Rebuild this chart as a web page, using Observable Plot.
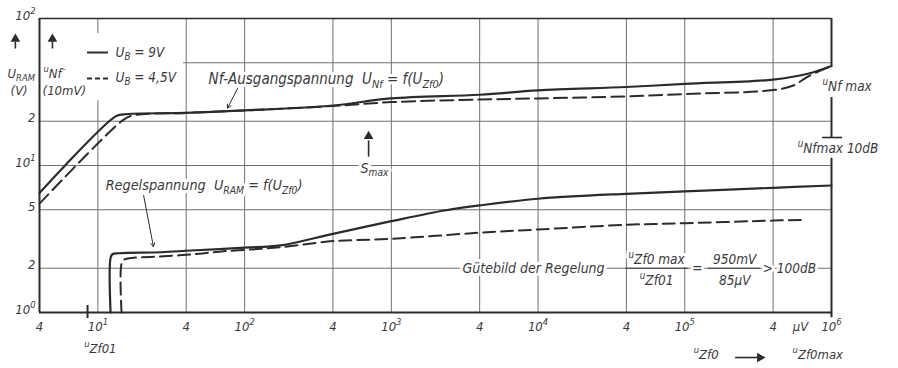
<!DOCTYPE html>
<html><head><meta charset="utf-8">
<script src="https://cdn.jsdelivr.net/npm/d3@7"></script>
<script src="https://cdn.jsdelivr.net/npm/@observablehq/plot@0.6"></script>
<style>
html,body{margin:0;padding:0;background:#fff;}
svg{display:block;}
svg text{font-stretch:condensed;}
</style>
</head><body><div id="chart"></div>
<script>
// ---- axis ticks and grid ----
const xTicks = [4, 10, 40, 100, 400, 1e3, 4e3, 1e4, 4e4, 1e5, 4e5, 1e6];
const xTickLabels = ["4", "10^{1}", "4", "10^{2}", "4", "10^{3}", "4", "10^{4}", "4", "10^{5}", "4", "10^{6}"];
const yTicks = [1, 2, 5, 10, 20, 100];
const yTickLabels = ["10^{0}", "2", "5", "10^{1}", "2", "10^{2}"];
const xGrid = [10, 40, 100, 400, 1e3, 4e3, 1e4, 4e4, 1e5, 4e5];
const yGrid = [2, 5, 10, 20, 50];

// ---- Nf output voltage u_Nf (10 mV) vs u_Zf0 (µV) ----
const nfX_9V = [4, 13.2, 15, 40, 100, 400, 1000, 4000, 1e4, 4e4, 1e5, 4e5, 6.9e5, 1e6];
const nfY_9V = [6.5, 21.6, 22.3, 22.8, 23.7, 25.6, 28.6, 30.3, 32.4, 34.2, 35.9, 38.4, 42.1, 47.5];
const nfX_45V = [4, 14.5, 17, 40, 100, 400, 1000, 4000, 1e4, 4e4, 1e5, 4e5, 5.5e5, 6.9e5, 1e6];
const nfY_45V = [5.5, 20.0, 21.8, 22.8, 23.7, 25.4, 27.0, 28.1, 28.6, 29.5, 30.6, 32.6, 35.0, 40.3, 47.5];

// ---- control voltage U_RAM (V) vs u_Zf0 (µV) ----
const rgX_9V = [12.2, 12.2, 12.6, 14, 27, 43, 100, 176, 400, 1000, 2300, 4000, 1e4, 4e4, 1e5, 4e5, 1e6];
const rgY_9V = [1, 2.35, 2.5, 2.53, 2.57, 2.64, 2.76, 2.86, 3.43, 4.18, 4.94, 5.35, 5.94, 6.42, 6.66, 7.05, 7.31];
const rgX_45V = [14.5, 14.5, 15.2, 17, 25.5, 43, 72, 128, 176, 400, 1000, 4000, 1e4, 4e4, 1e5, 4e5, 6.5e5];
const rgY_45V = [1, 2.15, 2.3, 2.35, 2.40, 2.48, 2.61, 2.71, 2.78, 3.06, 3.17, 3.49, 3.67, 3.95, 4.05, 4.22, 4.27];

const FONT = "'DejaVu Sans Condensed','DejaVu Sans',sans-serif";
const INK = "#2b2b2b";
const TXT = "#3a3a3a";
const GRID = "#707070";

const tbl = (xs, ys) => xs.map((x, i) => ({x, y: ys[i]}));
const nf9 = tbl(nfX_9V, nfY_9V), nf45 = tbl(nfX_45V, nfY_45V);
const rg9 = tbl(rgX_9V, rgY_9V), rg45 = tbl(rgX_45V, rgY_45V);

const tOpts = (o) => Object.assign({fontFamily: FONT, fontStyle: "italic", fill: TXT, fontSize: 14}, o);
// text with a white knock-out underneath (separate mark so sub/superscripts are not clipped)
const haloText = (data, o) => [
  Plot.text(data, tOpts({...o, fill: "white", stroke: "white", strokeWidth: 6, strokeLinejoin: "round"})),
  Plot.text(data, tOpts(o))
];

const plot = Plot.plot({
  width: 898, height: 368,
  marginLeft: 39, marginRight: 67, marginTop: 18, marginBottom: 56,
  x: {type: "log", domain: [4, 1e6], axis: null},
  y: {type: "log", domain: [1, 100], axis: null},
  style: {background: "white", fontFamily: FONT},
  marks: [
    // grid
    Plot.ruleX(xGrid, {stroke: GRID, strokeWidth: 1}),
    Plot.ruleY(yGrid, {stroke: GRID, strokeWidth: 1}),
    // legend box (masks grid)
    Plot.rect([0], {x1: 4, x2: 38.3, y1: 27.7, y2: 79, fill: "white"}),
    // curves
    Plot.line(nf9, {x: "x", y: "y", stroke: INK, strokeWidth: 2.2, curve: "catmull-rom"}),
    Plot.line(nf45, {x: "x", y: "y", stroke: INK, strokeWidth: 2, strokeDasharray: "13,6", curve: "catmull-rom"}),
    Plot.line(rg9, {x: "x", y: "y", stroke: INK, strokeWidth: 2.2, curve: "catmull-rom"}),
    Plot.line(rg45, {x: "x", y: "y", stroke: INK, strokeWidth: 2, strokeDasharray: "12,6", curve: "catmull-rom"}),
    // frame
    Plot.ruleX([4], {stroke: INK, strokeWidth: 2}),
    Plot.ruleY([100], {stroke: INK, strokeWidth: 1.6}),
    Plot.ruleY([1], {stroke: INK, strokeWidth: 2}),
    Plot.ruleX([1e6], {y1: 47.1, y2: 100, stroke: INK, strokeWidth: 2}),
    Plot.ruleX([1e6], {y1: 15.5, y2: 29, stroke: INK, strokeWidth: 2}),
    Plot.ruleY([15.5], {x1: 8.7e5, x2: 1.19e6, stroke: INK, strokeWidth: 1.6}),
    Plot.ruleX([1e6], {y1: 1, y2: 11.2, stroke: INK, strokeWidth: 2}),
    Plot.ruleX([1e6], {y1: 0.92, y2: 1, stroke: INK, strokeWidth: 2}),
    Plot.ruleX([8.5], {y1: 0.91, y2: 1.116, stroke: INK, strokeWidth: 2}),
    // tick labels
    Plot.text(xTicks, tOpts({x: d => d, text: (d, i) => xTickLabels[i], frameAnchor: "bottom", dy: 18, fontSize: 13})),
    Plot.text(["µV"], tOpts({x: [6.15e5], text: d => d, frameAnchor: "bottom", dy: 18, fontSize: 13})),
    Plot.text(yTicks, tOpts({y: d => d, text: (d, i) => yTickLabels[i], frameAnchor: "left", textAnchor: "end", dx: -4, dy: -3, fontSize: 13})),
    // axis titles
    Plot.text(["U_{RAM}", "(V)"], tOpts({x: [2.42, 2.54], y: [42.3, 32.0], text: d => d, textAnchor: "start", fontSize: 13})),
    Plot.text(["^{u}Nf^{–}", "(10mV)"], tOpts({x: [4.26, 4.2], y: [42.3, 32.0], text: d => d, textAnchor: "start", fontSize: 13})),
    Plot.link([0, 1], {x1: [2.74, 4.9], x2: [2.74, 4.9], y1: [62.5, 62.5], y2: [70, 70], stroke: INK, strokeWidth: 1.6}),
    Plot.dot([0, 1], {x: [2.74, 4.9], y: [72.5, 72.5], symbol: "triangle", r: 3.6, fill: INK, stroke: "none"}),
    Plot.text(["^{u}Zf01"], tOpts({x: [10.4], text: d => d, frameAnchor: "bottom", dy: 40, fontSize: 13})),
    Plot.text(["^{u}Zf0"], tOpts({x: [1.15e5], text: d => d, frameAnchor: "bottom", dy: 46, textAnchor: "start", fontSize: 13})),
    Plot.ruleY([0.494], {x1: 2.22e5, x2: 3.2e5, stroke: INK, strokeWidth: 1.6}),
    Plot.dot([0], {x: [3.25e5], y: [0.494], symbol: "triangle", rotate: 90, r: 3.6, fill: INK, stroke: "none"}),
    Plot.text(["^{u}Zf0max"], tOpts({x: [5.43e5], text: d => d, frameAnchor: "bottom", dy: 46, textAnchor: "start", fontSize: 13})),
    // legend
    Plot.ruleY([58.7], {x1: 8.5, x2: 11.8, stroke: INK, strokeWidth: 2}),
    Plot.ruleY([39.1], {x1: 8.5, x2: 11.8, stroke: INK, strokeWidth: 2, strokeDasharray: "5,3"}),
    Plot.text(["U_{B} = 9V", "U_{B} = 4,5V"], tOpts({x: [13.2, 13.2], y: [58.7, 39.7], text: d => d, textAnchor: "start", fontSize: 13.5})),
    // annotations
    ...haloText(["Nf-Ausgangspannung  U_{Nf} = f(U_{Zf0})"], {x: [56.8], y: [38.5], text: d => d, textAnchor: "start", fontSize: 15}),
    Plot.arrow([0], {x1: [89.5], y1: [33.4], x2: [76.5], y2: [24.6], stroke: INK, strokeWidth: 1, headLength: 6}),
    ...haloText(["Regelspannung  U_{RAM} = f(U_{Zf0})"], {x: [11.3], y: [7.31], text: d => d, textAnchor: "start", fontSize: 14.3}),
    Plot.arrow([0], {x1: [20.5], y1: [6.25], x2: [23.9], y2: [2.81], stroke: INK, strokeWidth: 1, headLength: 6}),
    ...haloText(["S_{max}"], {x: [617], y: [9.54], text: d => d, textAnchor: "start"}),
    Plot.link([0], {x1: [700], x2: [700], y1: [11.5], y2: [14.8], stroke: INK, strokeWidth: 1.6}),
    Plot.dot([0], {x: [700], y: [15.8], symbol: "triangle", r: 3.6, fill: INK, stroke: "none"}),
    ...haloText(["Gütebild der Regelung"], {x: [3057], y: [2], text: d => d, textAnchor: "start"}),
    ...haloText(["^{u}Zf0 max", "^{u}Zf01", "=", "950mV", "85µV"], {x: [64270, 64270, 122000, 219000, 219000], y: [2.29, 1.65, 2, 2.29, 1.65], text: d => d, textAnchor: "middle", fontSize: 13.5}),
    Plot.ruleY([2, 2], {x1: [39500, 145000], x2: [106000, 329000], stroke: TXT, strokeWidth: 1}),
    ...haloText(["> 100dB"], {x: [340000], y: [2], text: d => d, textAnchor: "start", fontSize: 13.5}),
    Plot.text(["^{u}Nf max", "^{u}Nfmax 10dB"], tOpts({x: [8.69e5, 5.88e5], y: [34.5, 13.0], text: d => d, textAnchor: "start", fontSize: 13.5}))
  ]
});

document.getElementById("chart").appendChild(plot);

// turn _{..} / ^{..} markup into real sub/superscript tspans
(function richify(root) {
  const NS = "http://www.w3.org/2000/svg";
  root.querySelectorAll("text").forEach(t => {
    const s = t.textContent;
    if (!/[_^]\{/.test(s)) return;
    while (t.firstChild) t.removeChild(t.firstChild);
    const parts = [];
    const re = /([_^])\{([^}]*)\}/g;
    let last = 0, m;
    while ((m = re.exec(s))) {
      if (m.index > last) parts.push([s.slice(last, m.index), ""]);
      parts.push([m[2], m[1]]);
      last = re.lastIndex;
    }
    if (last < s.length) parts.push([s.slice(last), ""]);
    let shift = 0;
    for (const [str, k] of parts) {
      const ts = document.createElementNS(NS, "tspan");
      const target = k === "_" ? 0.25 : k === "^" ? -0.42 : 0;
      const scale = k ? 0.72 : 1;
      if (k) ts.style.fontSize = "72%";
      const d = target - shift;
      if (d !== 0) ts.setAttribute("dy", (d / scale).toFixed(3) + "em");
      shift = target;
      ts.textContent = str;
      t.appendChild(ts);
    }
  });
})(plot);
</script>
</body></html>
